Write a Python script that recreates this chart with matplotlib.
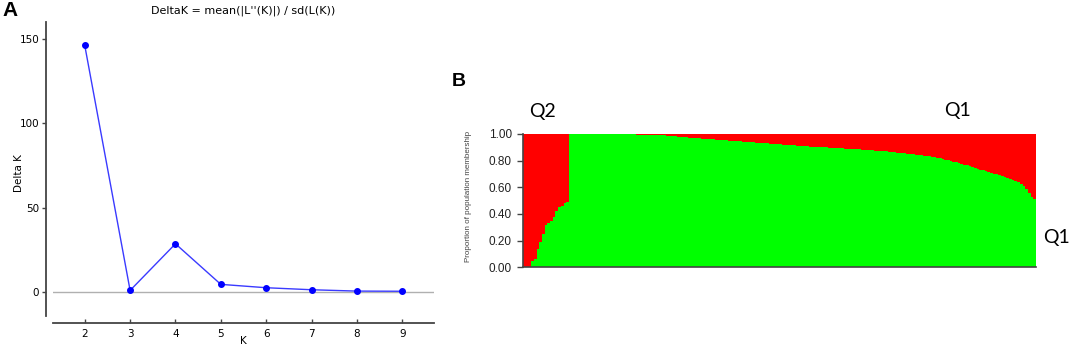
import numpy as np
import matplotlib
matplotlib.use("Agg")
import matplotlib.pyplot as plt

# --- panel A data: Evanno DeltaK ---
k_vals = [2, 3, 4, 5, 6, 7, 8, 9]
delta_k = [146.4, 0.8, 28.5, 4.4, 2.4, 1.2, 0.4, 0.3]

# --- panel B data: membership in Q1 (green), rest is Q2 (red) ---
# Q2 group, sorted by Q1 membership
q1_grp2 = [0.0, 0.0, 0.0, 0.05, 0.06, 0.14, 0.19, 0.25, 0.32, 0.33,
           0.35, 0.38, 0.42, 0.45, 0.46, 0.48, 0.49]
# Q1 group, sorted descending
q1_grp1 = [1.0] * 21 + [
    0.999, 0.998, 0.998, 0.997, 0.996, 0.996, 0.995, 0.994, 0.993, 0.993,
    0.992, 0.991, 0.990, 0.990, 0.989,
    0.987, 0.985, 0.984, 0.982, 0.980, 0.978, 0.977, 0.975, 0.973, 0.972,
    0.970, 0.968, 0.967, 0.965, 0.963, 0.962, 0.960, 0.959, 0.957,
    0.956, 0.955, 0.953, 0.952, 0.950, 0.949, 0.947, 0.946, 0.944, 0.943,
    0.941, 0.940, 0.938, 0.937, 0.935, 0.934, 0.932, 0.931, 0.929, 0.928,
    0.926, 0.925, 0.923, 0.922, 0.920, 0.919, 0.917, 0.916, 0.914, 0.913,
    0.911, 0.910, 0.908,
    0.907, 0.906, 0.905, 0.904, 0.902, 0.901, 0.900, 0.899, 0.898, 0.897,
    0.896, 0.895, 0.893, 0.892, 0.891, 0.890, 0.888, 0.887, 0.886, 0.884,
    0.883, 0.881, 0.880, 0.878, 0.877, 0.875, 0.874, 0.872, 0.870, 0.869,
    0.867, 0.865, 0.863, 0.861,
    0.859, 0.857, 0.855, 0.853, 0.851, 0.849, 0.846, 0.844, 0.841, 0.838,
    0.835, 0.832, 0.829, 0.825, 0.821,
    0.817, 0.812, 0.808, 0.803, 0.798, 0.793, 0.788,
    0.782, 0.776, 0.770, 0.764, 0.758, 0.752, 0.746, 0.740,
    0.733, 0.727, 0.721, 0.715, 0.709, 0.703, 0.697, 0.690,
    0.683, 0.676, 0.670, 0.664, 0.658,
    0.650, 0.640, 0.628, 0.612,
    0.585, 0.555, 0.530, 0.510]

b_ticks = [0.0, 0.2, 0.4, 0.6, 0.8, 1.0]

W, H = 1072, 348
fig = plt.figure(figsize=(W / 100, H / 100), dpi=100)
fig.patch.set_facecolor("white")

spine_col = "#444444"

# ---------------- panel A ----------------
axA = fig.add_axes([53 / W, 1 - 316 / H, 381 / W, 294 / H])
axA.axhline(0, color="#b0b0b0", lw=1.0, zorder=1)
axA.plot(k_vals, delta_k, color="#3a3aff", lw=1.0, marker="o", ms=4,
         mfc="#0000ff", mec="#0000ff", zorder=3)
axA.set_xlim(1.3, 9.7)
axA.set_ylim(-14.4, 160.3)
axA.set_xticks(k_vals)
axA.set_yticks([0, 50, 100, 150])
for s in ["top", "right"]:
    axA.spines[s].set_visible(False)
axA.spines["left"].set_position(("outward", 5))
axA.spines["bottom"].set_position(("outward", 5.3))
for s in ["left", "bottom"]:
    axA.spines[s].set_color(spine_col)
    axA.spines[s].set_linewidth(1.3)
axA.tick_params(axis="y", direction="out", length=3, width=1, color=spine_col,
                labelsize=7.5, pad=2)
axA.tick_params(axis="x", direction="in", length=3, width=1, color=spine_col,
                labelsize=7.5, pad=4)
fig.text(243 / W, 1 - 11 / H, "DeltaK = mean(|L''(K)|) / sd(L(K))",
         ha="center", va="center", fontsize=8)
fig.text(19 / W, 1 - 173 / H, "Delta K", rotation=90, ha="center",
         va="center", fontsize=7.5)
fig.text(243 / W, 1 - 341 / H, "K", ha="center", va="center", fontsize=7.5)
fig.text(10 / W, 1 - 11 / H, "A", ha="center", va="center", fontsize=15,
         fontweight="bold", family="Liberation Sans")

# ---------------- panel B ----------------
q1 = np.array(q1_grp2 + q1_grp1)
idx = np.arange(len(q1))
axB = fig.add_axes([523 / W, 1 - 267.3 / H, 513 / W, 133.3 / H])
axB.bar(idx, q1, width=1.0, color="#00ff00", linewidth=0, antialiased=False)
axB.bar(idx, 1 - q1, bottom=q1, width=1.0, color="#ff0000", linewidth=0,
        antialiased=False)
axB.set_xlim(-0.5, len(q1) - 0.5)
axB.set_ylim(0, 1)
axB.set_xticks([])
axB.set_yticks(b_ticks)
axB.set_yticklabels(["%.2f" % v for v in b_ticks], family="Liberation Sans")
for s in ["top", "right"]:
    axB.spines[s].set_visible(False)
for s in ["left", "bottom"]:
    axB.spines[s].set_color(spine_col)
    axB.spines[s].set_linewidth(1.2)
axB.tick_params(axis="y", direction="out", length=4, width=1, color=spine_col,
                labelsize=8.5, pad=4, labelcolor="#222222")
fig.text(468 / W, 1 - 196 / H, "Proportion of population membership",
         rotation=90, ha="center", va="center", fontsize=5.8,
         color="#444444", family="Liberation Sans")
fig.text(459 / W, 1 - 81.5 / H, "B", ha="center", va="center", fontsize=14,
         fontweight="bold", family="Liberation Sans")
fig.text(542.5 / W, 1 - 111 / H, "Q2", ha="center", va="center",
         fontsize=14, family="Lato")
fig.text(957.5 / W, 1 - 110.5 / H, "Q1", ha="center", va="center",
         fontsize=14, family="Lato")
fig.text(1057 / W, 1 - 238 / H, "Q1", ha="center", va="center",
         fontsize=14, family="Lato")

fig.savefig("out.png", dpi=100)
